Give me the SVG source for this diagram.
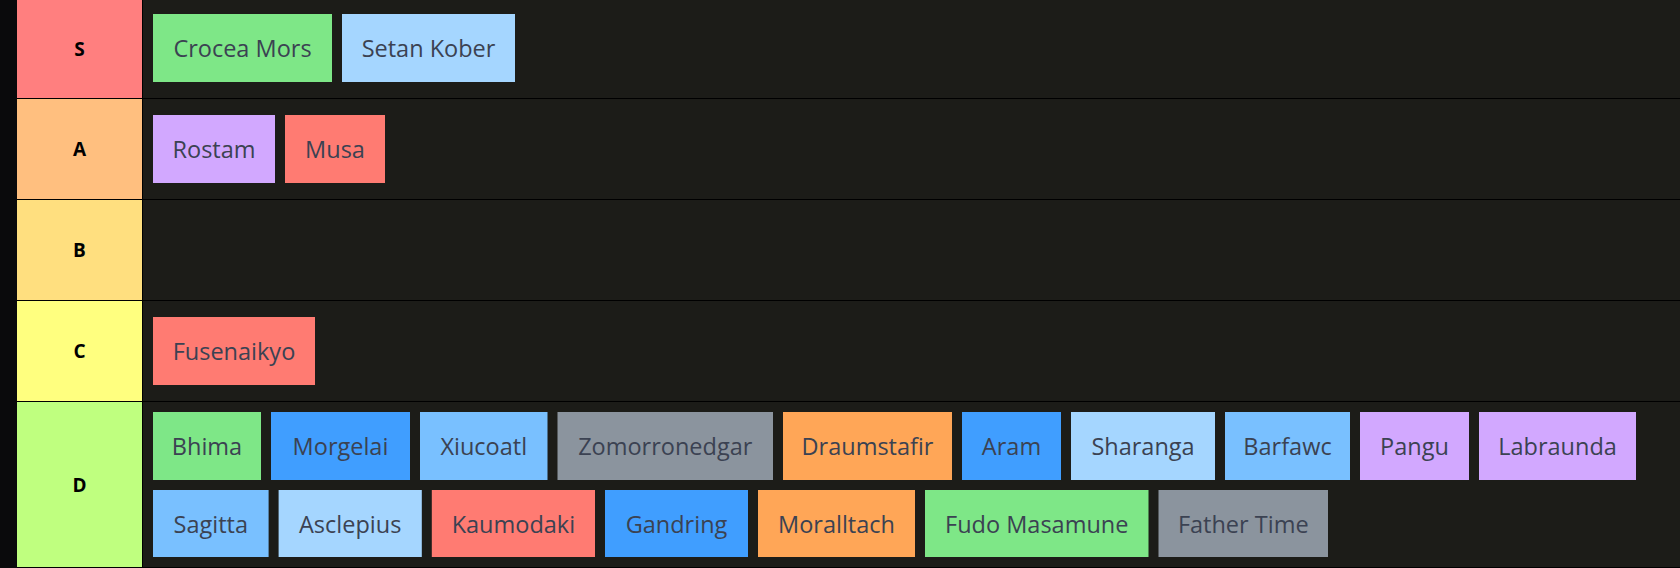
<svg xmlns="http://www.w3.org/2000/svg" width="1680" height="568" viewBox="0 0 1680 568">
<style>
.bg{fill:#1c1c18}
.strip{fill:#0a0a0c}
.sep{stroke:#000;stroke-width:1}
.lbl{font-family:"Open Sans","DejaVu Sans",sans-serif;font-weight:700;font-size:19px;fill:#000;text-anchor:middle}
.it{font-family:"Open Sans","Noto Sans",sans-serif;font-size:23.5px;fill:#3b4252;text-anchor:middle}
.green{fill:#7ee787}.lblue{fill:#a5d6ff}.purple{fill:#d2a8ff}.red{fill:#ff7b72}
.blue{fill:#409eff}.mblue{fill:#79c0ff}.gray{fill:#8b949e}.orange{fill:#ffa657}
</style>
<rect class="bg" x="0" y="0" width="1680" height="568"/>
<rect class="strip" x="0" y="0" width="17" height="568"/>

<g id="tier-S"><rect x="17" y="0" width="125" height="98" fill="#ff7f7f"/><text class="lbl" x="79.5" y="56">S</text></g>
<g id="tier-A"><rect x="17" y="99" width="125" height="100" fill="#ffbf7f"/><text class="lbl" x="79.5" y="156">A</text></g>
<g id="tier-B"><rect x="17" y="200" width="125" height="100" fill="#ffdf7f"/><text class="lbl" x="79.5" y="257">B</text></g>
<g id="tier-C"><rect x="17" y="301" width="125" height="100" fill="#ffff7f"/><text class="lbl" x="79.5" y="358">C</text></g>
<g id="tier-D"><rect x="17" y="402" width="125" height="165" fill="#bfff7f"/><text class="lbl" x="79.5" y="491.5">D</text></g>

<g id="connectors">
<line class="sep" x1="17" y1="98.5" x2="1680" y2="98.5"/>
<line class="sep" x1="17" y1="199.5" x2="1680" y2="199.5"/>
<line class="sep" x1="17" y1="300.5" x2="1680" y2="300.5"/>
<line class="sep" x1="17" y1="401.5" x2="1680" y2="401.5"/>
<line class="sep" x1="17" y1="567.5" x2="1680" y2="567.5"/>
<line class="sep" x1="142.5" y1="0" x2="142.5" y2="568"/>
</g>

<!-- S -->
<g id="crocea-mors"><rect class="green" x="153" y="14" width="179" height="68"/><text class="it" x="242.5" y="57">Crocea Mors</text></g>
<g id="setan-kober"><rect class="lblue" x="342" y="14" width="173" height="68"/><text class="it" x="428.5" y="57">Setan Kober</text></g>
<!-- A -->
<g id="rostam"><rect class="purple" x="153" y="115" width="122" height="68"/><text class="it" x="214" y="158">Rostam</text></g>
<g id="musa"><rect class="red" x="285" y="115" width="100" height="68"/><text class="it" x="335" y="158">Musa</text></g>
<!-- C -->
<g id="fusenaikyo"><rect class="red" x="153" y="317" width="162" height="68"/><text class="it" x="234" y="360">Fusenaikyo</text></g>
<!-- D row 1 -->
<g id="bhima"><rect class="green" x="153" y="412" width="108" height="68"/><text class="it" x="207" y="455">Bhima</text></g>
<g id="morgelai"><rect class="blue" x="271" y="412" width="139" height="68"/><text class="it" x="340.5" y="455">Morgelai</text></g>
<g id="xiucoatl"><rect class="mblue" x="420" y="412" width="127.5" height="68"/><text class="it" x="483.75" y="455">Xiucoatl</text></g>
<g id="zomorronedgar"><rect class="gray" x="557.5" y="412" width="215.5" height="68"/><text class="it" x="665.25" y="455">Zomorronedgar</text></g>
<g id="draumstafir"><rect class="orange" x="783" y="412" width="169" height="68"/><text class="it" x="867.5" y="455">Draumstafir</text></g>
<g id="aram"><rect class="blue" x="962" y="412" width="99" height="68"/><text class="it" x="1011.5" y="455">Aram</text></g>
<g id="sharanga"><rect class="lblue" x="1071" y="412" width="144" height="68"/><text class="it" x="1143" y="455">Sharanga</text></g>
<g id="barfawc"><rect class="mblue" x="1225" y="412" width="125" height="68"/><text class="it" x="1287.5" y="455">Barfawc</text></g>
<g id="pangu"><rect class="purple" x="1360" y="412" width="109" height="68"/><text class="it" x="1414.5" y="455">Pangu</text></g>
<g id="labraunda"><rect class="purple" x="1479" y="412" width="157" height="68"/><text class="it" x="1557.5" y="455">Labraunda</text></g>
<!-- D row 2 -->
<g id="sagitta"><rect class="mblue" x="153" y="490" width="115.6" height="67"/><text class="it" x="210.8" y="532.5">Sagitta</text></g>
<g id="asclepius"><rect class="lblue" x="278.6" y="490" width="143.2" height="67"/><text class="it" x="350.2" y="532.5">Asclepius</text></g>
<g id="kaumodaki"><rect class="red" x="431.8" y="490" width="163.2" height="67"/><text class="it" x="513.4" y="532.5">Kaumodaki</text></g>
<g id="gandring"><rect class="blue" x="605" y="490" width="143" height="67"/><text class="it" x="676.5" y="532.5">Gandring</text></g>
<g id="moralltach"><rect class="orange" x="758" y="490" width="157" height="67"/><text class="it" x="836.5" y="532.5">Moralltach</text></g>
<g id="fudo-masamune"><rect class="green" x="925" y="490" width="223.5" height="67"/><text class="it" x="1036.75" y="532.5">Fudo Masamune</text></g>
<g id="father-time"><rect class="gray" x="1158.5" y="490" width="169.5" height="67"/><text class="it" x="1243.25" y="532.5">Father Time</text></g>
</svg>
